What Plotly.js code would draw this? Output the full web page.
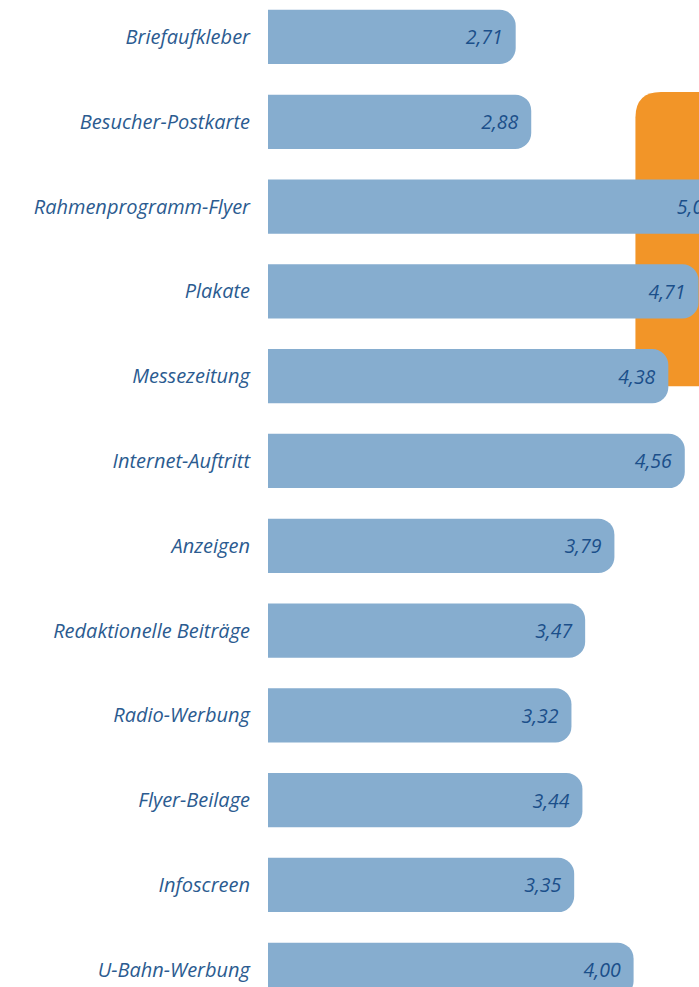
<!DOCTYPE html>
<html>
<head>
<meta charset="utf-8">
<script src="https://cdn.plot.ly/plotly-3.0.1.min.js"></script>
<style>
  html, body { margin: 0; padding: 0; overflow: hidden; background: #fff; }
  #plot { width: 760px; height: 987px; }
</style>
</head>
<body>
<div id="plot"></div>
<script>
// Werbemittel und ihre Bewertung
const categories = [
  "Briefaufkleber",
  "Besucher-Postkarte",
  "Rahmenprogramm-Flyer",
  "Plakate",
  "Messezeitung",
  "Internet-Auftritt",
  "Anzeigen",
  "Redaktionelle Beiträge",
  "Radio-Werbung",
  "Flyer-Beilage",
  "Infoscreen",
  "U-Bahn-Werbung"
];
const values = [2.71, 2.88, 5.02, 4.71, 4.38, 4.56, 3.79, 3.47, 3.32, 3.44, 3.35, 4.00];

const positions = categories.map((c, i) => i);
const labels = values.map(v => v.toFixed(2).replace(".", ",") + "\u2002");

const trace = {
  type: "bar",
  orientation: "h",
  x: values,
  y: positions,
  text: labels,
  textposition: "inside",
  insidetextanchor: "end",
  textangle: 0,
  insidetextfont: { family: "Open Sans", size: 19.5, color: "#1b4f8a", style: "italic" },
  marker: { color: "#86adcf", cornerradius: 16 },
  hoverinfo: "none"
};

// orange highlight box behind the bars (top-left corner rounded)
const bx0 = 4.02, bx1 = 6, by0 = 0.65, by1 = 4.12, rx = 0.28, ry = 0.3;
const boxPath = `M ${bx0},${by1} L ${bx0},${by0 + ry} Q ${bx0},${by0} ${bx0 + rx},${by0} L ${bx1},${by0} L ${bx1},${by1} Z`;

const layout = {
  width: 760,
  height: 987,
  margin: { l: 268, r: 0, t: 0, b: 0 },
  paper_bgcolor: "#fff",
  plot_bgcolor: "#fff",
  showlegend: false,
  bargap: 0.36,
  xaxis: {
    range: [0, 492 / 91.4],
    visible: false,
    showgrid: false,
    zeroline: false
  },
  yaxis: {
    range: [11.203, -0.436],
    tickvals: positions,
    ticktext: categories,
    tickfont: { family: "Open Sans", size: 20, color: "#2b5b90", style: "italic" },
    ticklabelstandoff: 17,
    showgrid: false,
    zeroline: false,
    showline: false,
    ticks: ""
  },
  shapes: [{
    type: "path",
    xref: "x",
    yref: "y",
    path: boxPath,
    fillcolor: "#f29528",
    line: { width: 0 },
    layer: "below"
  }]
};

Plotly.newPlot("plot", [trace], layout, { staticPlot: true, displayModeBar: false });
</script>
</body>
</html>
